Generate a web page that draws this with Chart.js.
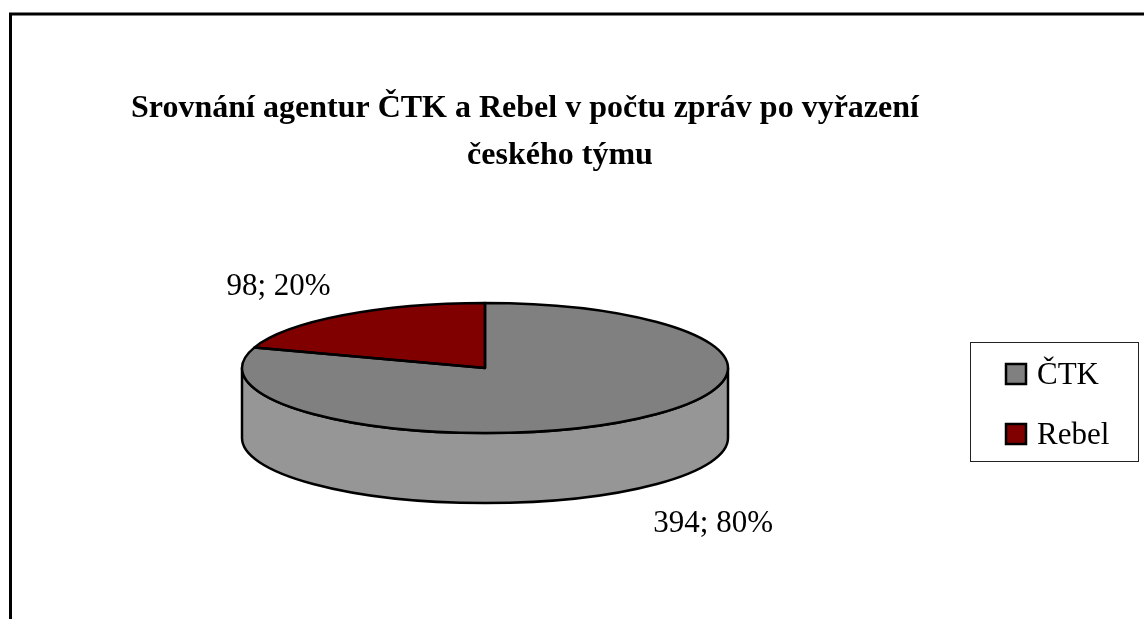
<!DOCTYPE html>
<html>
<head>
<meta charset="utf-8">
<script src="https://cdn.jsdelivr.net/npm/chart.js@4.4.0/dist/chart.umd.min.js"></script>
<style>
  html, body { margin: 0; padding: 0; background: #fff; }
  #wrap { width: 1144px; height: 619px; }
</style>
</head>
<body>
<div id="wrap"><canvas id="pieChart" width="1144" height="619"></canvas></div>
<script>
    var labels = ['ČTK', 'Rebel'];
    var counts = [394, 98];
    var percents = ['80%', '20%'];
    var titleLines = ['Srovnání agentur ČTK a Rebel v počtu zpráv po vyřazení', 'českého týmu'];

    var topColors = ['#808080', '#800000'];
    var sideColors = ['#969696', '#5a0000'];

    var FONT = '"Liberation Serif", "Times New Roman", serif';
    var TILT = 65 / 243;   // ellipse height / width
    var DEPTH = 70;        // thickness of the pie

    // front half of the ellipse (canvas angles 0..PI) gets a visible side
    function frontParts(s, e) {
        var parts = [];
        [-2 * Math.PI, 0, 2 * Math.PI].forEach(function (off) {
            var a0 = Math.max(s, off), a1 = Math.min(e, Math.PI + off);
            if (a1 > a0) parts.push([a0, a1]);
        });
        return parts;
    }

    var pie3d = {
        id: 'pie3d',
        beforeDatasetsDraw: function (chart) {
            var ctx = chart.ctx;
            var arcs = chart.getDatasetMeta(0).data;
            // side walls
            arcs.forEach(function (arc, i) {
                var p = arc.getProps(['x', 'y', 'startAngle', 'endAngle', 'outerRadius'], true);
                var ry = p.outerRadius * TILT;
                frontParts(p.startAngle, p.endAngle).forEach(function (pt) {
                    ctx.save();
                    ctx.beginPath();
                    ctx.ellipse(p.x, p.y, p.outerRadius, ry, 0, pt[0], pt[1], false);
                    ctx.ellipse(p.x, p.y + DEPTH, p.outerRadius, ry, 0, pt[1], pt[0], true);
                    ctx.closePath();
                    ctx.fillStyle = sideColors[i];
                    ctx.fill();
                    ctx.lineWidth = 2.5;
                    ctx.strokeStyle = '#000';
                    ctx.lineJoin = 'round';
                    ctx.stroke();
                    ctx.restore();
                });
            });
            // squash the library's slices into the top ellipse
            var a = arcs[0];
            ctx.save();
            ctx.translate(a.x, a.y);
            ctx.scale(1, TILT);
            ctx.translate(-a.x, -a.y);
        },
        afterDatasetsDraw: function (chart) {
            var ctx = chart.ctx;
            ctx.restore();
            var arcs = chart.getDatasetMeta(0).data;
            arcs.forEach(function (arc) {
                var p = arc.getProps(['x', 'y', 'startAngle', 'endAngle', 'outerRadius'], true);
                ctx.save();
                ctx.beginPath();
                ctx.moveTo(p.x, p.y);
                ctx.ellipse(p.x, p.y, p.outerRadius, p.outerRadius * TILT, 0, p.startAngle, p.endAngle, false);
                ctx.closePath();
                ctx.lineWidth = 2.5;
                ctx.lineJoin = 'round';
                ctx.strokeStyle = '#000';
                ctx.stroke();
                ctx.restore();
            });

            // data labels "value; percent"
            var nudge = chart.options.plugins.pie3d.labelNudge;
            ctx.save();
            ctx.font = '31px ' + FONT;
            ctx.fillStyle = '#000';
            ctx.textBaseline = 'alphabetic';
            arcs.forEach(function (arc, i) {
                var p = arc.getProps(['x', 'y', 'startAngle', 'endAngle', 'outerRadius'], true);
                var mid = (p.startAngle + p.endAngle) / 2;
                var ax = p.x + Math.cos(mid) * p.outerRadius;
                var ay = p.y + Math.sin(mid) * p.outerRadius * TILT;
                if (Math.sin(mid) > 0) ay += DEPTH;
                ctx.textAlign = Math.cos(mid) < 0 ? 'right' : 'left';
                ctx.fillText(counts[i] + '; ' + percents[i], ax + nudge[i][0], ay + nudge[i][1]);
            });
            ctx.restore();
        },
        afterDraw: function (chart) {
            var ctx = chart.ctx;
            ctx.save();
            // outer frame (top and left edges visible)
            ctx.strokeStyle = '#000';
            ctx.lineWidth = 3;
            ctx.beginPath();
            ctx.moveTo(10.5, 619);
            ctx.lineTo(10.5, 14);
            ctx.lineTo(1144, 14);
            ctx.stroke();

            // title
            ctx.fillStyle = '#000';
            ctx.font = 'bold 32px ' + FONT;
            ctx.textAlign = 'center';
            ctx.textBaseline = 'alphabetic';
            ctx.fillText(titleLines[0], 525, 117);
            ctx.fillText(titleLines[1], 560, 164);

            // legend
            ctx.lineWidth = 1;
            ctx.strokeStyle = '#222';
            ctx.strokeRect(970.5, 342.5, 168, 119);
            ctx.font = '31px ' + FONT;
            ctx.textAlign = 'left';
            var rowY = [374, 434];
            labels.forEach(function (lab, i) {
                ctx.fillStyle = topColors[i];
                ctx.fillRect(1006, rowY[i] - 10, 20, 20);
                ctx.lineWidth = 2.5;
                ctx.strokeStyle = '#000';
                ctx.strokeRect(1006, rowY[i] - 10, 20, 20);
                ctx.fillStyle = '#000';
                ctx.fillText(lab, 1037, rowY[i] + 10);
            });
            ctx.restore();
        }
    };

    var ctx = document.getElementById('pieChart').getContext('2d');
    var pieChart = new Chart(ctx, {
        type: 'pie',
        data: {
            labels: labels,
            datasets: [{
                data: counts,
                backgroundColor: topColors,
                borderWidth: 0
            }]
        },
        options: {
            responsive: false,
            devicePixelRatio: 1,
            animation: false,
            events: [],
            layout: {
                padding: { left: 242, right: 416, top: 125, bottom: 8 }
            },
            plugins: {
                legend: { display: false },
                title: { display: false },
                tooltip: { enabled: false },
                pie3d: { labelNudge: [[26, 41], [-12, -20]] }
            }
        },
        plugins: [pie3d]
    });
</script>
</body>
</html>
